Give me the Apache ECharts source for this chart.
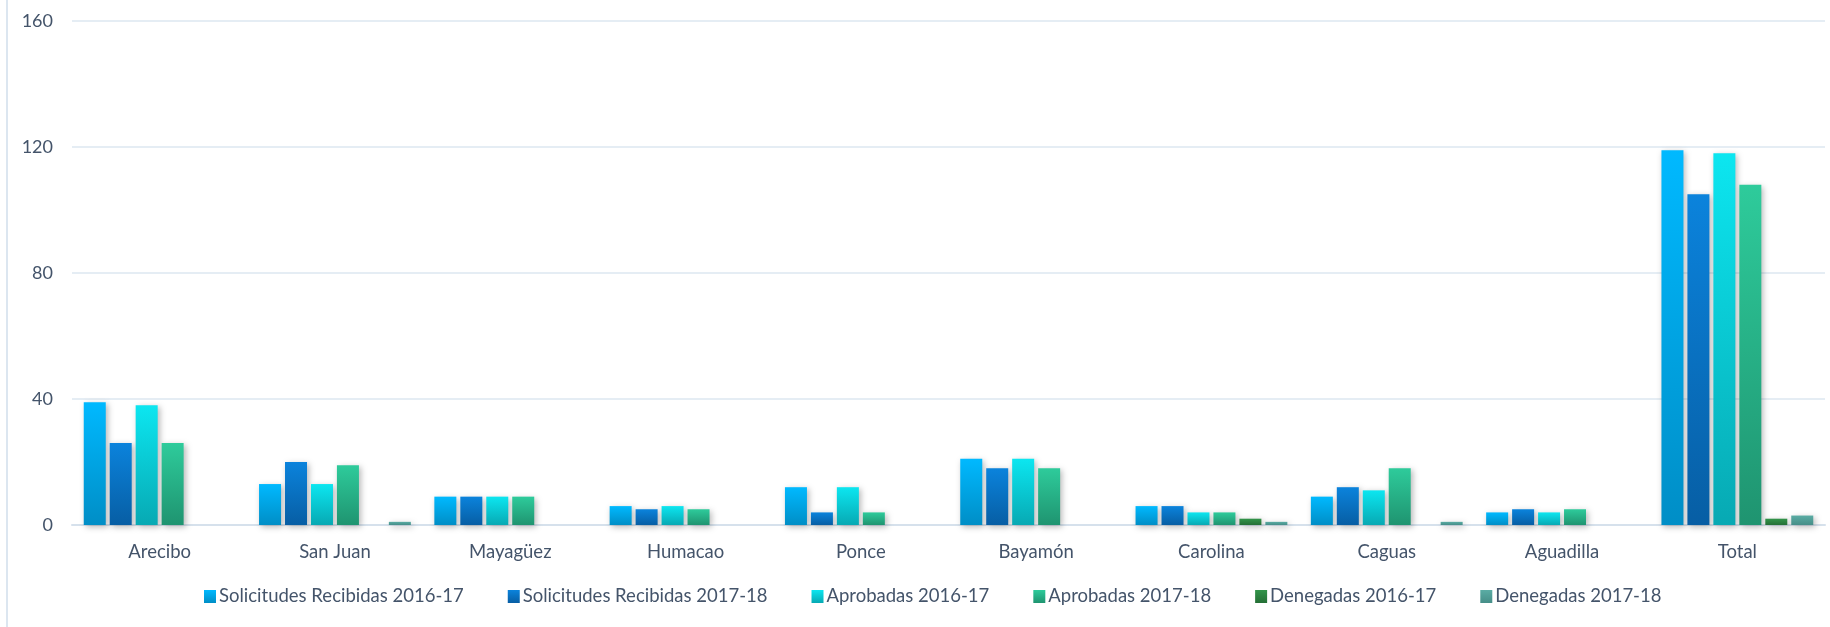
<!DOCTYPE html>
<html>
<head>
<meta charset="utf-8">
<script src="https://cdn.jsdelivr.net/npm/echarts@6/dist/echarts.min.js"></script>
<style>
  html, body { margin: 0; padding: 0; background: #fff; }
  #chart { width: 1830px; height: 627px; }
</style>
</head>
<body>
<div id="chart"></div>
<script>
// categorias (regiones)
const regiones = ['Arecibo', 'San Juan', 'Mayagüez', 'Humacao', 'Ponce', 'Bayamón', 'Carolina', 'Caguas', 'Aguadilla', 'Total'];

// valores
const solicitudes1617 = [39, 13, 9, 6, 12, 21, 6, 9, 4, 119];
const solicitudes1718 = [26, 20, 9, 5, 4, 18, 6, 12, 5, 105];
const aprobadas1617   = [38, 13, 9, 6, 12, 21, 4, 11, 4, 118];
const aprobadas1718   = [26, 19, 9, 5, 4, 18, 4, 18, 5, 108];
const denegadas1617   = [0, 0, 0, 0, 0, 0, 2, 0, 0, 2];
const denegadas1718   = [0, 1, 0, 0, 0, 0, 1, 1, 0, 3];

const nombres = [
  'Solicitudes Recibidas 2016-17',
  'Solicitudes Recibidas 2017-18',
  'Aprobadas 2016-17',
  'Aprobadas 2017-18',
  'Denegadas 2016-17',
  'Denegadas 2017-18'
];
const datos = [solicitudes1617, solicitudes1718, aprobadas1617, aprobadas1718, denegadas1617, denegadas1718];

// colores (arriba, abajo) de cada degradado
const colores = [
  ['#00b9ff', '#008ec6'],
  ['#0b83dc', '#075ea4'],
  ['#0ce6f0', '#07a9b3'],
  ['#2ecb9b', '#1f9470'],
  ['#33954a', '#256f36'],
  ['#5aaca4', '#468e88']
];

const chart = echarts.init(document.getElementById('chart'));
const labelColor = '#44546a';
const font = 'Lato, "Open Sans", sans-serif';

const series = datos.map((d, i) => ({
  name: nombres[i],
  type: 'bar',
  data: d,
  barWidth: 22,
  barGap: '18%',
  itemStyle: {
    color: new echarts.graphic.LinearGradient(0, 0, 0, 1, [
      { offset: 0, color: colores[i][0] },
      { offset: 1, color: colores[i][1] }
    ]),
    shadowColor: 'rgba(0,0,0,0.28)',
    shadowBlur: 6,
    shadowOffsetX: 2,
    shadowOffsetY: 2
  }
}));

const option = {
  animation: false,
  textStyle: { fontFamily: font },
  grid: { left: 72, right: 5, top: 21, bottom: 102 },
  graphic: [{
    type: 'line',
    shape: { x1: 7, y1: 0, x2: 7, y2: 627 },
    style: { stroke: '#dce6f0', lineWidth: 2 }
  }],
  legend: {
    bottom: 16,
    left: 199,
    itemWidth: 12,
    itemHeight: 13,
    itemGap: 44,
    icon: 'rect',
    textStyle: { color: labelColor, fontSize: 18.5, fontFamily: font, padding: [0, 0, 0, -2] },
    data: nombres
  },
  xAxis: {
    type: 'category',
    data: regiones,
    axisLine: { lineStyle: { color: '#d6e1ec', width: 2 } },
    axisTick: { show: false },
    axisLabel: { color: labelColor, fontSize: 18.5, margin: 18, fontFamily: font }
  },
  yAxis: {
    type: 'value',
    min: 0,
    max: 160,
    interval: 40,
    axisLine: { show: false },
    axisTick: { show: false },
    axisLabel: { color: labelColor, fontSize: 18, margin: 19, fontFamily: font },
    splitLine: { lineStyle: { color: '#dde7f1', width: 1.5 } }
  },
  series: series
};

chart.setOption(option);
</script>
</body>
</html>
